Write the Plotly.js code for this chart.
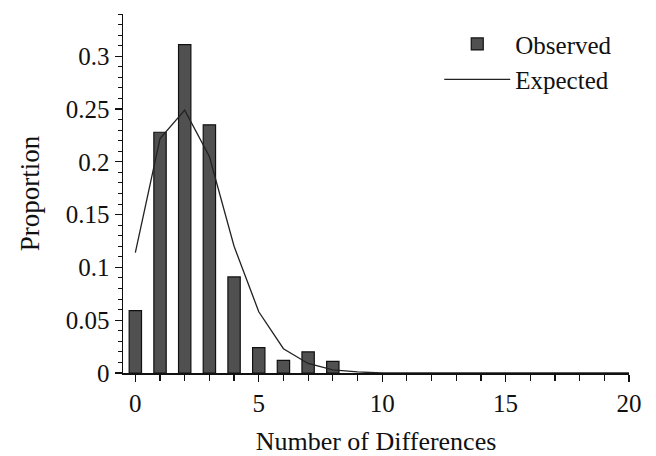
<!DOCTYPE html>
<html><head><meta charset="utf-8">
<script src="https://cdn.plot.ly/plotly-3.0.1.min.js"></script>
<style>body{margin:0;background:#fff}#c{width:656px;height:456px}</style>
</head><body><div id="c"></div>
<script>
const diffs = [0,1,2,3,4,5,6,7,8];
const observed = [0.059,0.228,0.311,0.235,0.091,0.024,0.012,0.020,0.011];
const expX = [0,1,2,3,4,5,6,7,8,9,10,11,12,13,14,15,16,17,18,19,20];
const expected = [0.114,0.222,0.249,0.205,0.120,0.058,0.023,0.009,0.003,0.001,0,0,0,0,0,0,0,0,0,0,0];
const yTicks = [0,0.05,0.1,0.15,0.2,0.25,0.3];
const yTickText = ['0','0.05','0.1','0.15','0.2','0.25','0.3'];
const xTicks = [0,5,10,15,20];

const font = {family:'Liberation Serif, Times New Roman, serif', color:'#111'};
const data = [
  {type:'bar', x:diffs, y:observed, width:0.5, name:'Observed',
   marker:{color:'#505050', line:{color:'#111', width:1.2}}},
  {type:'scatter', mode:'lines', x:expX, y:expected, name:'Expected',
   line:{color:'#222', width:1.3}}
];
const layout = {
  width:656, height:456,
  margin:{l:123, r:27, t:14, b:83},
  paper_bgcolor:'#fff', plot_bgcolor:'#fff',
  font:Object.assign({size:25}, font),
  showlegend:true,
  legend:{x:0.625, y:0.98, xanchor:'left', yanchor:'top', bgcolor:'rgba(0,0,0,0)',
          font:Object.assign({size:25}, font), itemwidth:66, tracegroupgap:0},
  xaxis:{range:[-0.5,20], tickvals:xTicks, ticktext:xTicks.map(String),
         showgrid:false, zeroline:false, showline:true, linecolor:'#111', linewidth:1.5,
         ticks:'outside', ticklen:7, tickwidth:1.3, tickcolor:'#111',
         minor:{dtick:1, tick0:0, ticks:'outside', ticklen:6, tickwidth:1.2, tickcolor:'#111', showgrid:false},
         tickfont:Object.assign({size:25}, font),
         title:{text:'Number of Differences', font:Object.assign({size:26}, font), standoff:20}},
  yaxis:{range:[0,0.34], tickvals:yTicks, ticktext:yTickText,
         showgrid:false, zeroline:false, showline:true, linecolor:'#111', linewidth:1.5,
         ticks:'outside', ticklen:7, tickwidth:1.3, tickcolor:'#111',
         minor:{dtick:0.01, tick0:0, ticks:'outside', ticklen:4, tickwidth:1, tickcolor:'#111', showgrid:false},
         tickfont:Object.assign({size:25}, font),
         title:{text:'Proportion', font:Object.assign({size:27}, font), standoff:18}},
  bargap:0
};
Plotly.newPlot('c', data, layout, {displayModeBar:false, staticPlot:true});
</script></body></html>
